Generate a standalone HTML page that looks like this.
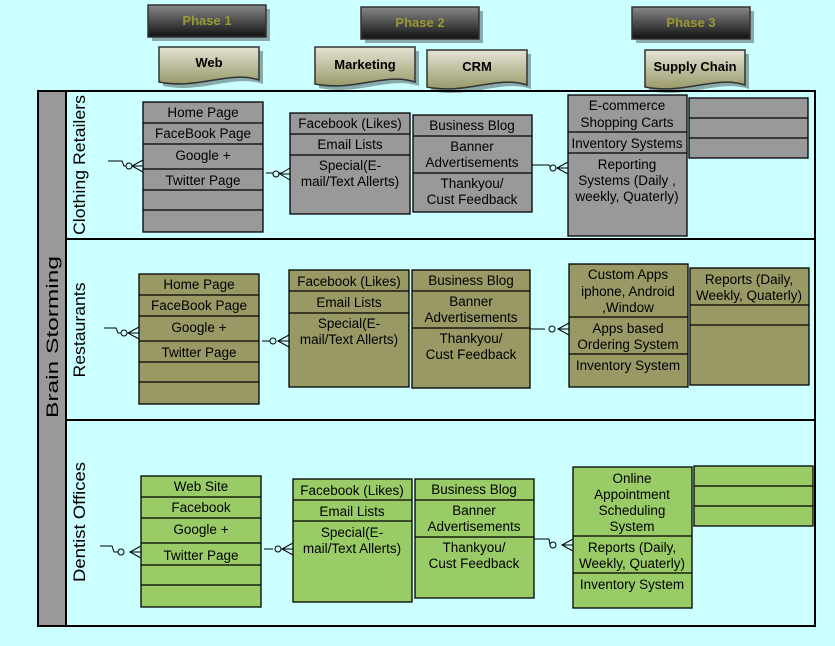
<!DOCTYPE html>
<html><head><meta charset="utf-8"><style>
html,body{margin:0;padding:0;background:#ccffff;}
svg{display:block;font-family:"Liberation Sans",sans-serif;}
.t{font-size:13.5px;text-anchor:middle;fill:#000;}
.b{stroke:#000;stroke-width:1.3;}
.ph{font-size:13px;font-weight:bold;fill:#999933;text-anchor:middle;}
.dc{font-size:13px;font-weight:bold;fill:#000;text-anchor:middle;}
.ln{font-size:17px;text-anchor:middle;}
</style></head><body>
<svg width="835" height="646" viewBox="0 0 835 646" xmlns="http://www.w3.org/2000/svg">
<defs>
<linearGradient id="dk" x1="0" y1="0" x2="0" y2="1"><stop offset="0" stop-color="#888"/><stop offset="1" stop-color="#111"/></linearGradient>
<linearGradient id="dg" x1="0" y1="0" x2="0" y2="1"><stop offset="0" stop-color="#e4e4d4"/><stop offset="1" stop-color="#99996a"/></linearGradient>
</defs>
<rect width="835" height="646" fill="#ccffff"/>
<g>
<rect x="152" y="9" width="118" height="32" fill="#88aaaa"/>
<rect x="148" y="5" width="118" height="32" fill="url(#dk)" stroke="#333" stroke-width="1.5"/>
<text class="ph" x="207" y="25">Phase 1</text>
<rect x="365" y="11" width="118" height="32" fill="#88aaaa"/>
<rect x="361" y="7" width="118" height="32" fill="url(#dk)" stroke="#333" stroke-width="1.5"/>
<text class="ph" x="420" y="27">Phase 2</text>
<rect x="636" y="11" width="118" height="32" fill="#88aaaa"/>
<rect x="632" y="7" width="118" height="32" fill="url(#dk)" stroke="#333" stroke-width="1.5"/>
<text class="ph" x="691" y="27">Phase 3</text>
</g>
<g stroke="#333" stroke-width="1.5">
<path d="M163 51 H263 V84 C233 74 203 94 163 86 Z" fill="#88aaaa" stroke="none"/>
<path d="M159 47 H259 V80 C229 70 199 90 159 82 Z" fill="url(#dg)"/>
<path d="M319 51 H419 V86 C389 76 359 96 319 88 Z" fill="#88aaaa" stroke="none"/>
<path d="M315 47 H415 V82 C385 72 355 92 315 84 Z" fill="url(#dg)"/>
<path d="M431 54 H531 V89 C501 79 471 99 431 91 Z" fill="#88aaaa" stroke="none"/>
<path d="M427 50 H527 V85 C497 75 467 95 427 87 Z" fill="url(#dg)"/>
<path d="M649 54 H749 V89 C719 79 689 99 649 91 Z" fill="#88aaaa" stroke="none"/>
<path d="M645 50 H745 V85 C715 75 685 95 645 87 Z" fill="url(#dg)"/>
</g>
<text class="dc" x="209" y="67">Web</text>
<text class="dc" x="365" y="69">Marketing</text>
<text class="dc" x="477" y="71">CRM</text>
<text class="dc" x="695" y="71">Supply Chain</text>
<rect x="38" y="91" width="28" height="535" fill="#999"/>
<rect x="38" y="91" width="777" height="535" fill="none" stroke="#000" stroke-width="2"/>
<line x1="66" y1="91" x2="66" y2="626" stroke="#000" stroke-width="2"/>
<line x1="66" y1="239" x2="815" y2="239" stroke="#000" stroke-width="2"/>
<line x1="66" y1="420" x2="815" y2="420" stroke="#000" stroke-width="2"/>
<text class="ln" transform="translate(58,337) rotate(-90)" textLength="162" lengthAdjust="spacingAndGlyphs">Brain Storming</text>
<text class="ln" transform="translate(85,165) rotate(-90)" textLength="140" lengthAdjust="spacingAndGlyphs">Clothing Retailers</text>
<text class="ln" transform="translate(85,330) rotate(-90)" textLength="95" lengthAdjust="spacingAndGlyphs">Restaurants</text>
<text class="ln" transform="translate(85,522) rotate(-90)" textLength="120" lengthAdjust="spacingAndGlyphs">Dentist Offices</text>

<g class="b" fill="#999">
<rect x="143" y="102" width="120" height="130"/>
<path d="M143 123H263M143 144H263M143 169H263M143 190H263M143 210H263" fill="none"/>
<rect x="290" y="113" width="120" height="101"/>
<path d="M290 134H410M290 155H410" fill="none"/>
<rect x="413" y="115" width="119" height="97"/>
<path d="M413 136H532M413 173H532" fill="none"/>
<rect x="568" y="95" width="119" height="141"/>
<path d="M568 132H687M568 153H687" fill="none"/>
<rect x="689" y="98" width="119" height="60"/>
<path d="M689 118H808M689 138H808" fill="none"/>
</g>
<g class="t">
<text x="203" y="117">Home Page</text><text x="203" y="138">FaceBook Page</text><text x="203" y="160">Google +</text><text x="203" y="185">Twitter Page</text>
<text x="350" y="128">Facebook (Likes)</text><text x="350" y="149">Email Lists</text><text x="350" y="170">Special(E-</text><text x="350" y="186">mail/Text Allerts)</text>
<text x="472" y="130">Business Blog</text><text x="472" y="151">Banner</text><text x="472" y="167">Advertisements</text><text x="472" y="188">Thankyou/</text><text x="472" y="204">Cust Feedback</text>
<text x="627" y="110">E-commerce</text><text x="627" y="127">Shopping Carts</text><text x="627" y="148">Inventory Systems</text><text x="627" y="169">Reporting</text><text x="627" y="185">Systems (Daily ,</text><text x="627" y="201">weekly, Quaterly)</text>
</g>

<g class="b" fill="#999966">
<rect x="139" y="274" width="120" height="130"/>
<path d="M139 295H259M139 316H259M139 341H259M139 362H259M139 382H259" fill="none"/>
<rect x="289" y="270" width="120" height="117"/>
<path d="M289 291H409M289 313H409" fill="none"/>
<rect x="412" y="270" width="118" height="118"/>
<path d="M412 291H530M412 328H530" fill="none"/>
<rect x="569" y="264" width="119" height="123"/>
<path d="M569 317H688M569 354H688" fill="none"/>
<rect x="690" y="268" width="119" height="117"/>
<path d="M690 305H809M690 325H809" fill="none"/>
</g>
<g class="t">
<text x="199" y="289">Home Page</text><text x="199" y="310">FaceBook Page</text><text x="199" y="332">Google +</text><text x="199" y="357">Twitter Page</text>
<text x="349" y="286">Facebook (Likes)</text><text x="349" y="307">Email Lists</text><text x="349" y="328">Special(E-</text><text x="349" y="344">mail/Text Allerts)</text>
<text x="471" y="285">Business Blog</text><text x="471" y="306">Banner</text><text x="471" y="322">Advertisements</text><text x="471" y="343">Thankyou/</text><text x="471" y="359">Cust Feedback</text>
<text x="628" y="279">Custom Apps</text><text x="628" y="296">iphone, Android</text><text x="628" y="312">,Window</text><text x="628" y="333">Apps based</text><text x="628" y="349">Ordering System</text><text x="628" y="370">Inventory System</text>
<text x="749" y="284">Reports (Daily,</text><text x="749" y="300">Weekly, Quaterly)</text>
</g>

<g class="b" fill="#99cc66">
<rect x="141" y="476" width="120" height="131"/>
<path d="M141 497H261M141 518H261M141 543H261M141 565H261M141 585H261" fill="none"/>
<rect x="293" y="479" width="119" height="123"/>
<path d="M293 500H412M293 521H412" fill="none"/>
<rect x="415" y="479" width="119" height="119"/>
<path d="M415 500H534M415 537H534" fill="none"/>
<rect x="573" y="467" width="119" height="141"/>
<path d="M573 536H692M573 573H692" fill="none"/>
<rect x="694" y="466" width="119" height="60"/>
<path d="M694 486H813M694 506H813" fill="none"/>
</g>
<g class="t">
<text x="201" y="491">Web Site</text><text x="201" y="512">Facebook</text><text x="201" y="534">Google +</text><text x="201" y="560">Twitter Page</text>
<text x="352" y="495">Facebook (Likes)</text><text x="352" y="516">Email Lists</text><text x="352" y="537">Special(E-</text><text x="352" y="553">mail/Text Allerts)</text>
<text x="474" y="494">Business Blog</text><text x="474" y="515">Banner</text><text x="474" y="531">Advertisements</text><text x="474" y="552">Thankyou/</text><text x="474" y="568">Cust Feedback</text>
<text x="632" y="483">Online</text><text x="632" y="499">Appointment</text><text x="632" y="515">Scheduling</text><text x="632" y="531">System</text><text x="632" y="552">Reports (Daily,</text><text x="632" y="568">Weekly, Quaterly)</text><text x="632" y="589">Inventory System</text>
</g>

<g fill="none" stroke="#000" stroke-width="1">
<path d="M108 161H122L124 166H128M143 160L132 166L143 172M132 166H143"/><circle cx="129" cy="166" r="3" fill="#ccffff"/>
<path d="M266 173H282M290 168L280 174L290 180M280 174H290"/><circle cx="276" cy="174" r="3" fill="#ccffff"/>
<path d="M532 165H549L551 168M568 162L557 168L568 174M557 168H568"/><circle cx="553" cy="168" r="3" fill="#ccffff"/>

<path d="M104 328H116L118 333H122M139 327L128 333L139 339M128 333H139"/><circle cx="124" cy="333" r="3" fill="#ccffff"/>
<path d="M262 341H270M289 335L278 341L289 347M278 341H289"/><circle cx="273" cy="341" r="3" fill="#ccffff"/>
<path d="M530 329H545M569 323L558 329L569 335M558 329H569"/><circle cx="552" cy="329" r="3" fill="#ccffff"/>

<path d="M100 546H112L114 552H118M141 546L130 552L141 558M130 552H141"/><circle cx="121" cy="552" r="3" fill="#ccffff"/>
<path d="M264 549H273M293 543L282 549L293 555M282 549H293"/><circle cx="278" cy="549" r="3" fill="#ccffff"/>
<path d="M534 539H549L550 545M573 539L562 545L573 551M562 545H573"/><circle cx="553" cy="545" r="3" fill="#ccffff"/>
</g>
</svg>
</body></html>
